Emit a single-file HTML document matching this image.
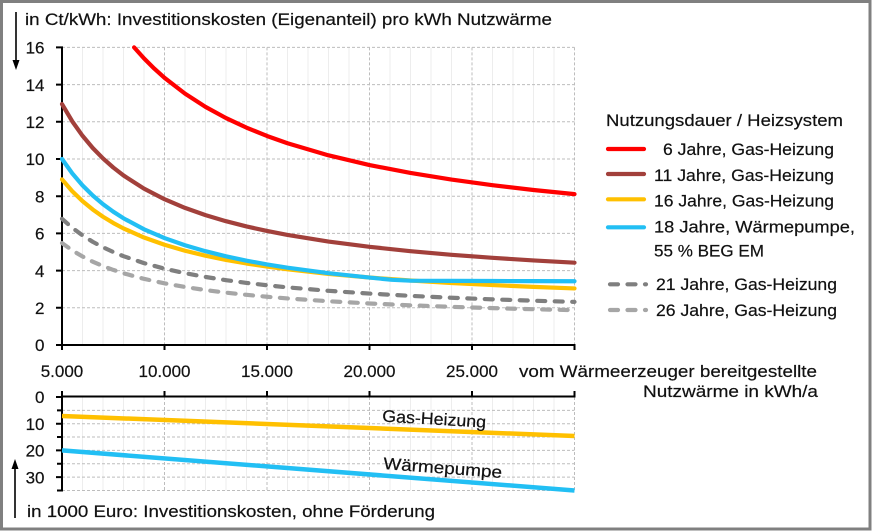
<!DOCTYPE html>
<html><head><meta charset="utf-8"><style>
html,body{margin:0;padding:0;background:#fff;}
svg{display:block;}
text{font-family:"Liberation Sans",Arial,sans-serif;fill:#111;stroke:#111;stroke-width:0.2;}
</style></head><body>
<svg width="872" height="531" viewBox="0 0 872 531" xmlns="http://www.w3.org/2000/svg">
<rect x="0" y="0" width="872" height="531" fill="#fff"/>
<rect x="1.5" y="1.5" width="868.5" height="527.5" fill="#fff" stroke="#808080" stroke-width="3"/>

<!-- minor vertical gridlines -->
<g stroke="#ededed" stroke-width="1">
<path d="M82.5 47.4V345M103 47.4V345M123.5 47.4V345M144 47.4V345M185 47.4V345M205.5 47.4V345M226 47.4V345M246.5 47.4V345M287.5 47.4V345M308 47.4V345M328.5 47.4V345M349 47.4V345M390 47.4V345M410.5 47.4V345M431 47.4V345M451.5 47.4V345M492.5 47.4V345M513 47.4V345M533.5 47.4V345M554 47.4V345"/>
<path d="M82.5 397V490.5M103 397V490.5M123.5 397V490.5M144 397V490.5M185 397V490.5M205.5 397V490.5M226 397V490.5M246.5 397V490.5M287.5 397V490.5M308 397V490.5M328.5 397V490.5M349 397V490.5M390 397V490.5M410.5 397V490.5M431 397V490.5M451.5 397V490.5M492.5 397V490.5M513 397V490.5M533.5 397V490.5M554 397V490.5"/>
</g>
<!-- major dashed gridlines -->
<g stroke="#bdbdbd" stroke-width="1" stroke-dasharray="3 2" fill="none">
<path d="M164.5 47.4V345M267 47.4V345M369.5 47.4V345M472 47.4V345M574.5 47.4V345"/>
<path d="M62 47.4H574.5M62 84.6H574.5M62 121.8H574.5M62 159H574.5M62 196.2H574.5M62 233.4H574.5M62 270.6H574.5M62 307.8H574.5"/>
<path d="M164.5 397V490.5M267 397V490.5M369.5 397V490.5M472 397V490.5M574.5 397V490.5"/>
<path d="M62 410.35H574.5M62 423.7H574.5M62 437.05H574.5M62 450.4H574.5M62 463.75H574.5M62 477.1H574.5M62 490.45H574.5"/>
</g>

<!-- axes -->
<g stroke="#000" stroke-width="2" fill="none">
<path d="M62 46.4V346M56 47.4H62M56 84.6H62M56 121.8H62M56 159H62M56 196.2H62M56 233.4H62M56 270.6H62M56 307.8H62M56 345H62"/>
<path d="M61 345H575.5M62 345V350M164.5 345V350M267 345V350M369.5 345V350M472 345V350M574.5 345V350"/>
<path d="M61 396.5H575.5M62 391V397M164.5 391V397M267 391V397M369.5 391V397M472 391V397M574.5 391V397"/>
<path d="M62 396V491.5M56 397H62M57 410.35H62M56 423.7H62M57 437.05H62M56 450.4H62M57 463.75H62M56 477.1H62M57 490.45H62"/>
</g>

<!-- series upper -->
<g fill="none" stroke-width="4.2" stroke-linejoin="round" stroke-linecap="round">
<polyline stroke="#ff0000" points="134.1,47.4 144,58.39 154.25,68.6 164.5,77.78 185,93.65 205.5,106.87 226,118.06 246.5,127.65 267,135.96 287.5,143.23 328.5,155.35 369.5,165.04 410.5,172.98 451.5,179.59 492.5,185.18 533.5,189.98 574.5,194.13"/>
<polyline stroke="#a2403b" points="62,104.05 72.25,121.35 82.5,135.78 92.75,147.99 103,158.44 113.25,167.51 123.5,175.44 144,188.67 164.5,199.24 185,207.9 205.5,215.11 226,221.21 246.5,226.44 267,230.98 287.5,234.94 328.5,241.55 369.5,246.84 410.5,251.17 451.5,254.78 492.5,257.83 533.5,260.44 574.5,262.71"/>
<polyline stroke="#ffc000" points="62,179.34 72.25,191.24 82.5,201.16 92.75,209.55 103,216.74 113.25,222.98 123.5,228.43 144,237.52 164.5,244.79 185,250.74 205.5,255.7 226,259.9 246.5,263.49 267,266.61 287.5,269.34 328.5,273.88 369.5,277.52 410.5,280.49 451.5,282.97 492.5,285.07 533.5,286.87 574.5,288.42"/>
<polyline stroke="#22bff4" points="62,159 72.25,173.37 82.5,185.35 92.75,195.48 103,204.17 113.25,211.7 123.5,218.29 144,229.27 164.5,238.05 185,245.24 205.5,251.22 226,256.29 246.5,260.64 267,264.4 287.5,267.69 328.5,273.18 369.5,277.57 392,279.8 410.5,280.7 451.5,280.85 492.5,281.01 533.5,281.15 574.5,281.28"/>
<polyline stroke="#7f7f7f" stroke-dasharray="8 9.5" points="62,218.79 72.25,227.85 82.5,235.41 92.75,241.8 103,247.28 113.25,252.03 123.5,256.18 144,263.11 164.5,268.65 185,273.18 205.5,276.96 226,280.16 246.5,282.9 267,285.27 287.5,287.35 328.5,290.81 369.5,293.58 410.5,295.85 451.5,297.74 492.5,299.34 533.5,300.71 574.5,301.89"/>
<polyline stroke="#a6a6a6" stroke-dasharray="8 9.5" points="62,243.06 72.25,250.38 82.5,256.48 92.75,261.65 103,266.07 113.25,269.91 123.5,273.27 144,278.86 164.5,283.33 185,287 205.5,290.05 226,292.63 246.5,294.84 267,296.76 287.5,298.44 328.5,301.23 369.5,303.47 410.5,305.3 451.5,306.83 492.5,308.12 533.5,309.23 574.5,310.18"/>
</g>
<!-- series lower -->
<g fill="none" stroke-width="4.5" stroke-linecap="butt">
<line x1="62" y1="416" x2="574.5" y2="436" stroke="#ffc000"/>
<line x1="62" y1="450.4" x2="574.5" y2="490.5" stroke="#22bff4"/>
</g>

<!-- arrows -->
<g stroke="#000" stroke-width="1.6" fill="#000">
<line x1="16" y1="12" x2="16" y2="62"/>
<path d="M12.5 60L19.5 60L16 70Z" stroke="none"/>
<line x1="15" y1="467" x2="15" y2="518"/>
<path d="M11.5 469L18.5 469L15 459Z" stroke="none"/>
</g>

<!-- titles -->
<text x="25" y="25" font-size="16.8" textLength="527" lengthAdjust="spacingAndGlyphs">in Ct/kWh: Investitionskosten (Eigenanteil) pro kWh Nutzwärme</text>
<text x="27" y="517" font-size="16.8" textLength="408" lengthAdjust="spacingAndGlyphs">in 1000 Euro: Investitionskosten, ohne Förderung</text>
<text x="519" y="377" font-size="16.8" textLength="298" lengthAdjust="spacingAndGlyphs">vom Wärmeerzeuger bereitgestellte</text>
<text x="643" y="397" font-size="16.8" textLength="175" lengthAdjust="spacingAndGlyphs">Nutzwärme in kWh/a</text>

<!-- y tick labels -->
<g font-size="17" text-anchor="end">
<text x="44.5" y="53.6">16</text>
<text x="44.5" y="90.8">14</text>
<text x="44.5" y="128">12</text>
<text x="44.5" y="165.2">10</text>
<text x="44.5" y="202.4">8</text>
<text x="44.5" y="239.6">6</text>
<text x="44.5" y="276.8">4</text>
<text x="44.5" y="314">2</text>
<text x="44.5" y="351.2">0</text>
<text x="44.5" y="403.2">0</text>
<text x="44.5" y="429.9">10</text>
<text x="44.5" y="456.6">20</text>
<text x="44.5" y="483.3">30</text>
</g>
<!-- x tick labels -->
<g font-size="17" text-anchor="middle">
<text x="62" y="377">5.000</text>
<text x="164.5" y="377">10.000</text>
<text x="267" y="377">15.000</text>
<text x="369.5" y="377">20.000</text>
<text x="472" y="377">25.000</text>
</g>

<!-- lower labels -->
<text x="382" y="421.5" font-size="16.8" textLength="104" lengthAdjust="spacingAndGlyphs" transform="rotate(3.4 382 421.5)">Gas-Heizung</text>
<text x="383" y="469" font-size="16.8" textLength="119" lengthAdjust="spacingAndGlyphs" transform="rotate(4.3 383 469)">Wärmepumpe</text>

<!-- legend -->
<text x="606" y="126" font-size="17" textLength="237" lengthAdjust="spacingAndGlyphs">Nutzungsdauer / Heizsystem</text>
<g stroke-width="4.2" stroke-linecap="round" fill="none">
<line x1="608" y1="149" x2="644" y2="149" stroke="#ff0000"/>
<line x1="608" y1="174" x2="644" y2="174" stroke="#a2403b"/>
<line x1="608" y1="199.3" x2="644" y2="199.3" stroke="#ffc000"/>
<line x1="608" y1="227.3" x2="644" y2="227.3" stroke="#22bff4"/>
<line x1="610" y1="284.3" x2="646" y2="284.3" stroke="#7f7f7f" stroke-dasharray="8 9.5"/>
<line x1="610" y1="310" x2="646" y2="310" stroke="#a6a6a6" stroke-dasharray="8 9.5"/>
</g>
<g font-size="17">
<text x="663" y="155" textLength="171" lengthAdjust="spacingAndGlyphs">6 Jahre, Gas-Heizung</text>
<text x="654" y="181" textLength="180" lengthAdjust="spacingAndGlyphs">11 Jahre, Gas-Heizung</text>
<text x="654" y="206.7" textLength="180" lengthAdjust="spacingAndGlyphs">16 Jahre, Gas-Heizung</text>
<text x="654" y="232.7" textLength="201" lengthAdjust="spacingAndGlyphs">18 Jahre, Wärmepumpe,</text>
<text x="654" y="256.7" textLength="110" lengthAdjust="spacingAndGlyphs">55 % BEG EM</text>
<text x="656" y="290" textLength="181" lengthAdjust="spacingAndGlyphs">21 Jahre, Gas-Heizung</text>
<text x="656" y="316" textLength="181" lengthAdjust="spacingAndGlyphs">26 Jahre, Gas-Heizung</text>
</g>
</svg>
</body></html>
